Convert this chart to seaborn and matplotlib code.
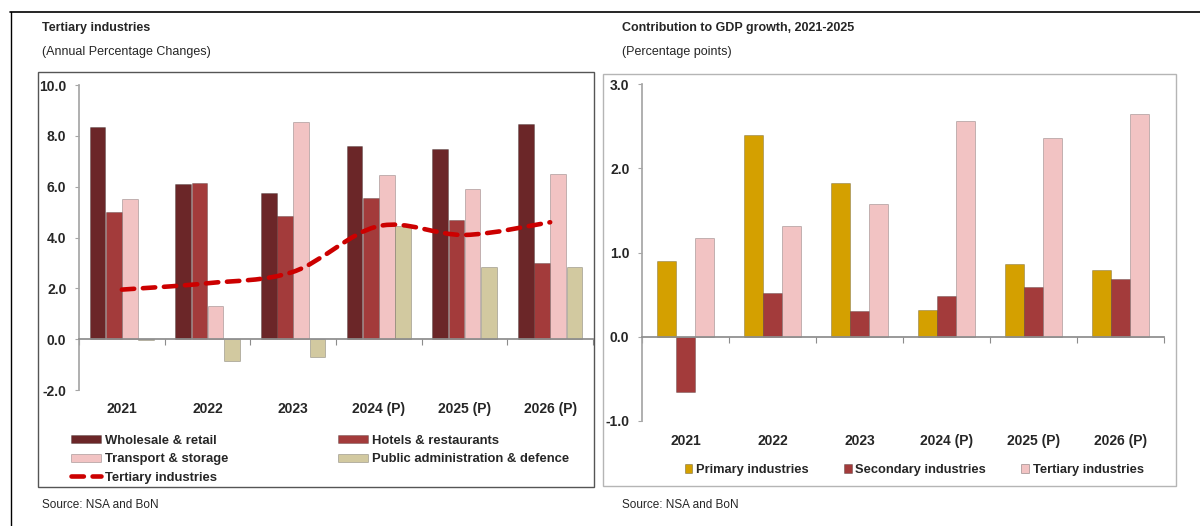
import numpy as np
import pandas as pd
import matplotlib
matplotlib.use("Agg")
import matplotlib.pyplot as plt
import seaborn as sns
from matplotlib.patches import Rectangle, PathPatch, Patch
from matplotlib.path import Path
from matplotlib.lines import Line2D

# ---- data ----
years = ["2021", "2022", "2023", "2024 (P)", "2025 (P)", "2026 (P)"]

sectors = ["Wholesale & retail", "Hotels & restaurants",
           "Transport & storage", "Public administration & defence"]
wholesale = [8.35, 6.1, 5.75, 7.6, 7.5, 8.45]
hotels = [5.0, 6.15, 4.85, 5.55, 4.7, 3.0]
transport = [5.5, 1.3, 8.55, 6.45, 5.9, 6.5]
public_admin = [-0.05, -0.85, -0.7, 4.45, 2.85, 2.85]
tertiary_total = [1.95, 2.2, 2.65, 4.45, 4.1, 4.6]

contrib = ["Primary industries", "Secondary industries", "Tertiary industries"]
primary = [0.9, 2.4, 1.82, 0.32, 0.86, 0.79]
secondary = [-0.65, 0.52, 0.3, 0.48, 0.59, 0.69]
tertiary = [1.17, 1.32, 1.57, 2.56, 2.36, 2.64]

left_colors = ["#6b2628", "#a33b3b", "#f2c3c3", "#d2c9a0"]
right_colors = ["#d4a000", "#a33b3b", "#f2c3c3"]
line_color = "#cc0000"

sns.set_theme(style="white")
plt.rcParams["font.family"] = ["Liberation Sans", "DejaVu Sans"]

df_left = pd.DataFrame({"year": years * 4,
                        "sector": np.repeat(sectors, len(years)),
                        "value": wholesale + hotels + transport + public_admin})
df_right = pd.DataFrame({"year": years * 3,
                         "group": np.repeat(contrib, len(years)),
                         "value": primary + secondary + tertiary})

W, H = 1200, 526
fig = plt.figure(figsize=(W / 100, H / 100), dpi=100)


def fx(px):
    return px / W


def fy(py):
    return 1 - py / H


# page frame lines and panel boxes
fig.add_artist(Line2D([fx(10), 1], [fy(12), fy(12)], color="black", lw=1.2))
fig.add_artist(Line2D([fx(11), fx(11)], [fy(12), 0], color="black", lw=1.0))
fig.add_artist(Rectangle((fx(38), fy(487)), fx(594 - 38), (487 - 72) / H,
                         transform=fig.transFigure, fill=False,
                         edgecolor="#555555", lw=1.0))
fig.add_artist(Rectangle((fx(603), fy(486)), fx(1176 - 603), (486 - 74) / H,
                         transform=fig.transFigure, fill=False,
                         edgecolor="#b5b5b5", lw=1.0))

# titles and sources
fig.text(fx(42), fy(28), "Tertiary industries", fontsize=9, fontweight="bold", va="center")
fig.text(fx(42), fy(52), "(Annual Percentage Changes)", fontsize=9, va="center")
fig.text(fx(42), fy(505), "Source: NSA and BoN", fontsize=8.5, va="center")
fig.text(fx(622), fy(28), "Contribution to GDP growth, 2021-2025", fontsize=9,
         fontweight="bold", va="center")
fig.text(fx(622), fy(52), "(Percentage points)", fontsize=9, va="center")
fig.text(fx(622), fy(505), "Source: NSA and BoN", fontsize=8.5, va="center")


def style_axis(ax, ylim, step, label_pad):
    ax.set_ylim(*ylim)
    ax.set_xlim(-0.5, len(years) - 0.5)
    ax.set_yticks(np.arange(ylim[0], ylim[1] + 0.001, step))
    ax.set_yticklabels([f"{v:.1f}" for v in ax.get_yticks()],
                       fontsize=10, fontweight="bold")
    for s in ["top", "right"]:
        ax.spines[s].set_visible(False)
    ax.spines["left"].set_color("#a6a6a6")
    ax.spines["bottom"].set_color("#8c8c8c")
    ax.spines["bottom"].set_position(("data", 0))
    ax.tick_params(axis="y", direction="out", length=3, width=0.8,
                   color="#a6a6a6", pad=6, left=True)
    ax.set_xticks(range(len(years)))
    ax.set_xticklabels(years, fontsize=10, fontweight="bold")
    ax.tick_params(axis="x", which="major", length=0, pad=label_pad)
    ax.set_xticks(np.arange(-0.5, len(years), 1), minor=True)
    ax.tick_params(axis="x", which="minor", direction="out", length=4,
                   width=0.8, color="#8c8c8c", bottom=True)
    ax.set_xlabel("")
    ax.set_ylabel("")
    ax.patch.set_alpha(0)


# ---- left panel ----
axl = fig.add_axes([fx(79), fy(390), fx(593 - 79), (390 - 85) / H])
sns.barplot(data=df_left, x="year", y="value", hue="sector", order=years,
            hue_order=sectors, palette=left_colors, saturation=1, width=0.76,
            gap=0.04, edgecolor=(0, 0, 0, 0.25), linewidth=0.6, legend=False,
            ax=axl)
style_axis(axl, (-2, 10), 2, 45)

# smoothed tertiary line (bezier through the points)
pts = np.column_stack([np.arange(len(years)), tertiary_total])
ext = np.vstack([pts[0], pts, pts[-1]])
verts = [tuple(pts[0])]
codes = [Path.MOVETO]
for i in range(len(pts) - 1):
    p0, p1, p2, p3 = ext[i], ext[i + 1], ext[i + 2], ext[i + 3]
    c1 = p1 + (p2 - p0) / 6
    c2 = p2 - (p3 - p1) / 6
    verts += [tuple(c1), tuple(c2), tuple(p2)]
    codes += [Path.CURVE4] * 3
line = PathPatch(Path(verts, codes), fill=False, edgecolor=line_color, lw=3.3,
                 linestyle=(0, (2.7, 1.9)), capstyle="round", zorder=5)
axl.add_patch(line)

h = [Patch(facecolor=c, edgecolor=(0, 0, 0, 0.25), lw=0.6) for c in left_colors]
tl = Line2D([], [], color=line_color, lw=3.3, linestyle=(0, (2.7, 1.9)),
            dash_capstyle="round")
fig.legend([h[0], h[2], tl, h[1], h[3]],
           [sectors[0], sectors[2], "Tertiary industries", sectors[1], sectors[3]],
           ncol=2, loc="upper left", bbox_to_anchor=(fx(59), fy(423)),
           frameon=False, handlelength=2.3, handleheight=0.6,
           handletextpad=0.3, columnspacing=8.4, labelspacing=0.5,
           prop={"size": 9.4, "weight": "bold"})

# ---- right panel ----
axr = fig.add_axes([fx(642), fy(421), fx(1164 - 642), (421 - 84) / H])
sns.barplot(data=df_right, x="year", y="value", hue="group", order=years,
            hue_order=contrib, palette=right_colors, saturation=1, width=0.66,
            gap=0.03, edgecolor=(0, 0, 0, 0.25), linewidth=0.6, legend=False,
            ax=axr)
style_axis(axr, (-1, 3), 1, 70)

hr = [Patch(facecolor=c, edgecolor=(0, 0, 0, 0.3), lw=0.6) for c in right_colors]
fig.legend(hr, contrib, ncol=3, loc="center left",
           bbox_to_anchor=(fx(673), fy(470)), frameon=False,
           handlelength=0.6, handleheight=0.6, handletextpad=0.3,
           columnspacing=2.7, prop={"size": 9.3, "weight": "bold"})

fig.savefig("out.png", dpi=100)
